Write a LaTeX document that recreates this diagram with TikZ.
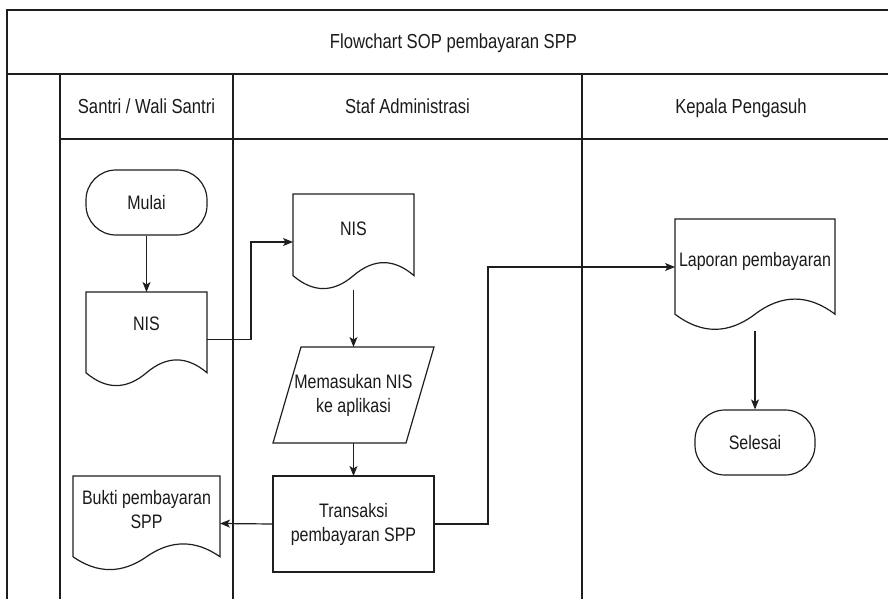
\documentclass[tikz,border=0pt]{standalone}
\usepackage{fontspec}
\setmainfont{Liberation Sans}[FakeStretch=0.82]
\usetikzlibrary{calc,arrows.meta}
\definecolor{ink}{HTML}{1E1E1E}
\definecolor{txt}{HTML}{1A1A1A}
\tikzset{
  frame/.style={draw=ink, line width=1.4pt},
  shp/.style={draw=ink, line width=1.2pt},
  arr/.style={draw=ink, line width=1.2pt, -{Stealth[length=10pt,width=8pt,inset=2.5pt]}},
  oneline/.style={text height=14pt, text depth=0pt},
  hdr/.style={text=txt, font=\fontsize{20.3}{24}\selectfont, inner sep=0pt, oneline},
  lbl/.style={text=txt, font=\fontsize{19.5}{24}\selectfont, align=center, inner sep=0pt},
  box/.style={inner sep=0pt, outer sep=0pt},
  term/.style={shp, rounded corners=30pt, text=txt, font=\fontsize{19.5}{24}\selectfont, inner sep=0pt},
}
% document shape: name, x, y (top-left), w, h
\newcommand\docshape[5]{%
  \pgfmathsetmacro\dD{0.3*#5}%
  \node[box, minimum width=#4pt, minimum height=#5pt, anchor=north west] (#1) at (#2,#3) {};
  \draw[shp] (#2,#3) -- (#2+#4,#3) -- (#2+#4,#3+#5-0.5*\dD)
    .. controls (#2+5*#4/6,#3+#5-1.1*\dD) and (#2+2*#4/3,#3+#5-1.1*\dD) .. (#2+#4/2,#3+#5-0.5*\dD)
    .. controls (#2+#4/3,#3+#5+0.1*\dD) and (#2+#4/6,#3+#5+0.1*\dD) .. (#2,#3+#5-0.5*\dD) -- cycle;
}
\begin{document}
\begin{tikzpicture}[x=1pt,y=-1pt]
\useasboundingbox (0,0) rectangle (888,599);
\clip (0,0) rectangle (888,599);
% pool and lanes
\draw[frame] (7,640) -- (7,10) -- (900,10) -- (900,640);
\draw[frame] (7,74) -- (900,74);
\draw[frame] (60,74) -- (60,640);
\draw[frame] (60,139) -- (900,139);
\draw[frame] (233,74) -- (233,640);
\draw[frame] (582,74) -- (582,640);
\node[hdr] (title) at (453.5,42) {Flowchart SOP pembayaran SPP};
\node[hdr] (h1) at (146.5,106.5) {Santri / Wali Santri};
\node[hdr] (h2) at (407.5,106.5) {Staf Administrasi};
\node[hdr] (h3) at (741,106.5) {Kepala Pengasuh};
% shapes
\node[term, oneline, minimum width=121pt, minimum height=65pt] (mulai) at (146.5,202.5) {Mulai};
\docshape{snis}{86}{292}{121}{95}
\node[lbl, oneline] (snist) at (146.5,323) {NIS};
\docshape{fnis}{293}{194}{121}{96}
\node[lbl, oneline] (fnist) at (353.5,228) {NIS};
\node[box, minimum width=161pt, minimum height=96pt] (para) at (353.5,395) {};
\draw[shp] ($(para.north west)+(28,0)$) -- (para.north east) -- ($(para.south east)+(-28,0)$) -- (para.south west) -- cycle;
\node[lbl] (parat) at (353.5,395) {Memasukan NIS\\ke aplikasi};
\node[box, minimum width=161pt, minimum height=96pt] (trans) at (353.5,524) {};
\draw[shp] (trans.north west) rectangle (trans.south east);
\node[lbl] (transt) at (353.5,524) {Transaksi\\pembayaran SPP};
\docshape{bukti}{73}{476}{147}{95}
\node[lbl] (buktit) at (146.5,509.5) {Bukti pembayaran\\SPP};
\docshape{lap}{675}{219}{160}{112}
\node[lbl, oneline] (lapt) at (755,259) {Laporan pembayaran};
\node[term, oneline, minimum width=120pt, minimum height=65pt] (selesai) at (755,442.5) {Selesai};
% connectors
\coordinate (k1) at (251,0);
\coordinate (k2) at (488,0);
\coordinate (lapin) at ($(lap.north west)+(0,48)$);
\draw[arr] (mulai) -- (snis);
\draw[arr] (snis.east) -- (snis.east -| k1) |- (fnis.west);
\draw[arr] (fnis.south) -- (para.north);
\draw[arr] (para.south) -- (trans.north);
\draw[arr] (trans.west) -- (bukti.east);
\draw[arr] (trans.east) -- (trans.east -| k2) |- (lapin);
\draw[arr] (lap.south) -- (selesai.north);
\end{tikzpicture}
\end{document}
